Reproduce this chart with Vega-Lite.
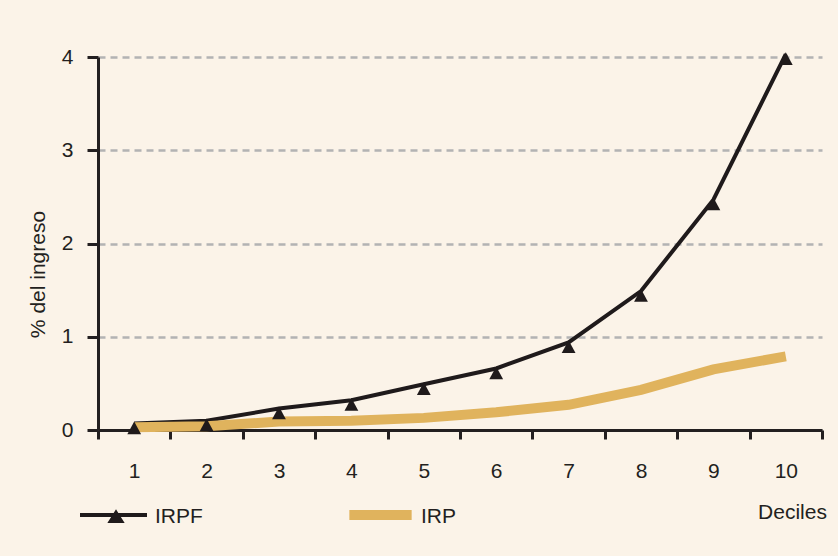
{
  "$schema": "https://vega.github.io/schema/vega-lite/v6.json",
  "width": 724,
  "height": 373,
  "autosize": {"type": "none"},
  "padding": {"left": 98, "top": 57, "right": 16, "bottom": 126},
  "background": "#FBF3E8",
  "config": {
    "view": {"stroke": null},
    "font": "Liberation Sans"
  },
  "data": {
    "values": [
      {"decil": 1, "serie": "IRPF", "valor": 0.07},
      {"decil": 2, "serie": "IRPF", "valor": 0.1},
      {"decil": 3, "serie": "IRPF", "valor": 0.23},
      {"decil": 4, "serie": "IRPF", "valor": 0.32},
      {"decil": 5, "serie": "IRPF", "valor": 0.49},
      {"decil": 6, "serie": "IRPF", "valor": 0.66},
      {"decil": 7, "serie": "IRPF", "valor": 0.94},
      {"decil": 8, "serie": "IRPF", "valor": 1.49},
      {"decil": 9, "serie": "IRPF", "valor": 2.47},
      {"decil": 10, "serie": "IRPF", "valor": 4.03},
      {"decil": 1, "serie": "IRP", "valor": 0.03},
      {"decil": 2, "serie": "IRP", "valor": 0.04},
      {"decil": 3, "serie": "IRP", "valor": 0.09},
      {"decil": 4, "serie": "IRP", "valor": 0.1},
      {"decil": 5, "serie": "IRP", "valor": 0.13},
      {"decil": 6, "serie": "IRP", "valor": 0.19},
      {"decil": 7, "serie": "IRP", "valor": 0.27},
      {"decil": 8, "serie": "IRP", "valor": 0.43},
      {"decil": 9, "serie": "IRP", "valor": 0.65},
      {"decil": 10, "serie": "IRP", "valor": 0.79}
    ]
  },
  "encoding": {
    "x": {
      "field": "decil",
      "type": "ordinal",
      "scale": {"type": "band", "paddingInner": 0, "paddingOuter": 0},
      "axis": {
        "title": "Deciles",
        "labelAngle": 0,
        "tickBand": "extent",
        "grid": false,
        "domainColor": "#231f20",
        "domainWidth": 3,
        "tickColor": "#231f20",
        "tickWidth": 3,
        "tickSize": 9,
        "labelFontSize": 21,
        "labelColor": "#231f20",
        "labelPadding": 21,
        "titleFontSize": 21,
        "titleFontWeight": "normal",
        "titleColor": "#231f20",
        "titleX": 694,
        "titleY": 82,
        "titleAlign": "center",
        "titleBaseline": "middle"
      }
    },
    "y": {
      "field": "valor",
      "type": "quantitative",
      "scale": {"domain": [0, 4], "nice": false},
      "axis": {
        "title": "% del ingreso",
        "values": [0, 1, 2, 3, 4],
        "grid": true,
        "gridColor": "#b3b3b3",
        "gridDash": [7, 5],
        "gridWidth": 2.5,
        "domainColor": "#231f20",
        "domainWidth": 3,
        "tickColor": "#231f20",
        "tickWidth": 3,
        "tickSize": 11,
        "labelPadding": 14,
        "labelFontSize": 21,
        "labelColor": "#231f20",
        "titleFontSize": 21,
        "titleFontWeight": "normal",
        "titleColor": "#231f20",
        "titleAngle": -90,
        "titleX": -60,
        "titleY": 217,
        "titleAlign": "center",
        "titleBaseline": "middle"
      }
    }
  },
  "layer": [
    {
      "transform": [{"filter": "datum.serie === 'IRPF'"}],
      "mark": {"type": "line", "strokeWidth": 4},
      "encoding": {
        "color": {
          "field": "serie",
          "type": "nominal",
          "scale": {"domain": ["IRPF"], "range": ["#1f1a1b"]},
          "legend": {
            "orient": "none",
            "legendX": -18,
            "legendY": 424,
            "title": null,
            "padding": 0,
            "symbolType": "M-1,0H1M0.075,-0.06L0.225,0.18L-0.075,0.18Z",
            "symbolSize": 4489,
            "symbolStrokeWidth": 4,
            "symbolFillColor": "#1f1a1b",
            "labelFontSize": 21,
            "labelColor": "#231f20",
            "encode": {
              "symbols": {
                "update": {
                  "x": {"value": 33.5},
                  "y": {"value": 34},
                  "fill": {"value": "#1f1a1b"},
                  "strokeWidth": {"value": 4}
                }
              },
              "labels": {
                "update": {
                  "x": {"value": 75},
                  "y": {"value": 36},
                  "baseline": {"value": "middle"}
                }
              }
            }
          }
        }
      }
    },
    {
      "transform": [{"filter": "datum.serie === 'IRP'"}],
      "mark": {"type": "line", "strokeWidth": 10, "strokeCap": "butt"},
      "encoding": {
        "stroke": {
          "field": "serie",
          "type": "nominal",
          "scale": {"domain": ["IRP"], "range": ["#e0b35d"]},
          "legend": {
            "orient": "none",
            "legendX": 249,
            "legendY": 424,
            "title": null,
            "padding": 0,
            "symbolType": "M-0.93,0H0.93",
            "symbolSize": 4489,
            "symbolStrokeWidth": 10,
            "labelFontSize": 21,
            "labelColor": "#231f20",
            "encode": {
              "symbols": {
                "update": {
                  "x": {"value": 33.5},
                  "y": {"value": 34},
                  "strokeWidth": {"value": 10},
                  "strokeCap": {"value": "butt"}
                }
              },
              "labels": {
                "update": {
                  "x": {"value": 74},
                  "y": {"value": 36},
                  "baseline": {"value": "middle"}
                }
              }
            }
          }
        }
      }
    },
    {
      "transform": [{"filter": "datum.serie === 'IRPF'"}],
      "mark": {
        "type": "point",
        "shape": "M0,-0.3L1,1.55L-1,1.55Z",
        "filled": true,
        "size": 190,
        "color": "#1f1a1b",
        "opacity": 1,
        "strokeWidth": 0
      }
    }
  ]
}
